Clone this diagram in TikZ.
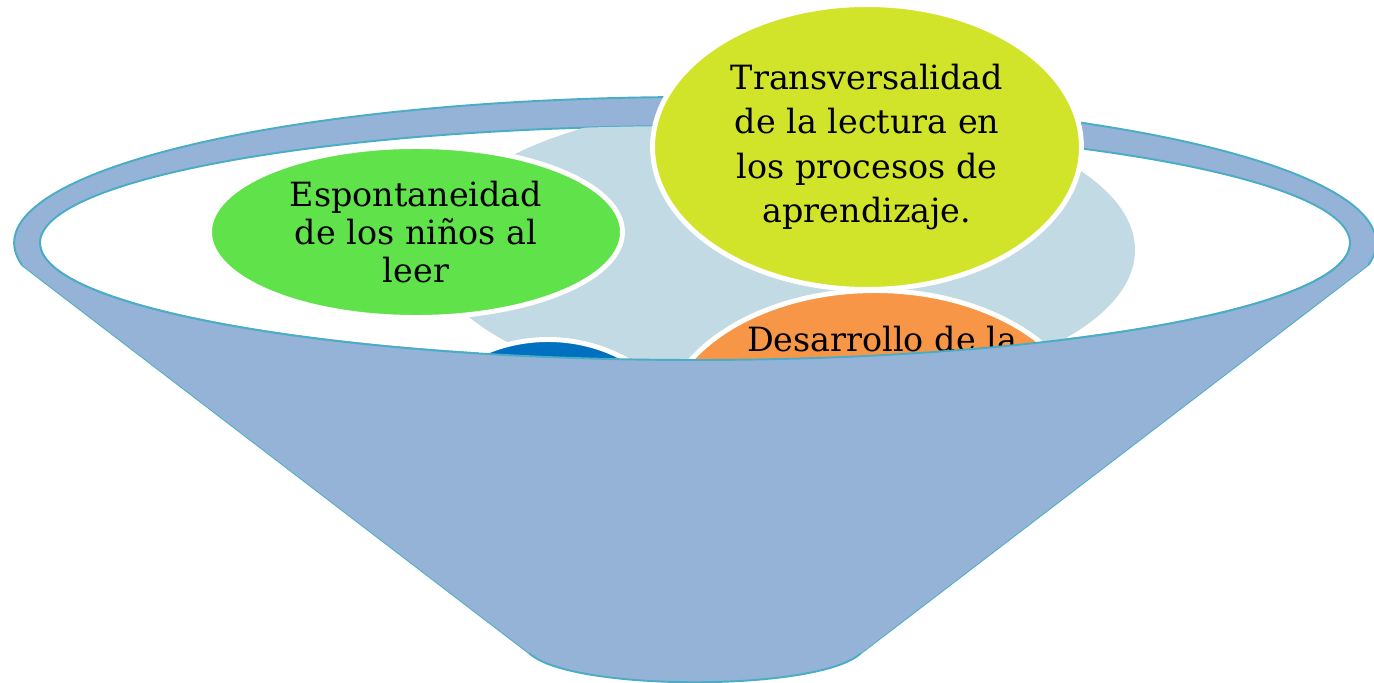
\documentclass[tikz,border=0pt]{standalone}
\usepackage{fontspec}
\setmainfont{DejaVu Serif}
\usepackage{tikz}
\usetikzlibrary{shapes.geometric, positioning}
\usepackage{xcolor}

\definecolor{rimblue}{RGB}{149,179,215}
\definecolor{edgeteal}{RGB}{75,172,198}
\definecolor{paleblue}{RGB}{193,218,227}
\definecolor{leafgreen}{RGB}{95,226,74}
\definecolor{limeyellow}{RGB}{209,228,41}
\definecolor{softorange}{RGB}{247,150,70}
\definecolor{deepblue}{RGB}{0,112,192}

\tikzset{
    bubble/.style={ellipse, draw=white, line width=2.8pt, inner sep=0pt, align=center},
    rim/.style={fill=rimblue, draw=edgeteal, line width=1.1pt},
}

\begin{document}
\begin{tikzpicture}[x=0.02cm, y=0.02cm]
    \useasboundingbox (0,0) rectangle (1374,683);

    % bowl outline: rim on top, funnel below
    \filldraw[rim] (1368,418) -- (861,30) .. controls (821,-9) and (569,-9) .. (529,30) -- (22,418)
        arc[start angle=188.67, end angle=-8.67, x radius=681, y radius=146];
    \filldraw[fill=white, draw=edgeteal, line width=1.1pt] (695,440) ellipse [x radius=655, y radius=117];

    \begin{scope}
        \clip (695,440) ellipse [x radius=655, y radius=117];
        \fill[paleblue] (783,433) ellipse [x radius=352, y radius=148];
        \node[bubble, fill=deepblue, minimum width=6.1cm, minimum height=5.7cm] (lectores) at (548,201) {};
        \node[bubble, fill=softorange, minimum width=8.58cm, minimum height=5.7cm] (desarrollo) at (875,250) {};
        \node[anchor=base, font=\fontsize{19}{22}\selectfont] (desarrollotxt) at (882,331) {Desarrollo de la};
    \end{scope}

    \node[bubble, fill=leafgreen, minimum width=8.26cm, minimum height=3.42cm,
          font=\fontsize{19}{21.5}\selectfont] (espontaneidad) at (416,451)
          {Espontaneidad\\de los niños al\\leer};
    \node[bubble, fill=limeyellow, minimum width=8.58cm, minimum height=5.7cm,
          font=\fontsize{19}{25.3}\selectfont] (transversalidad) at (867,536)
          {Transversalidad\\de la lectura en\\los procesos de\\aprendizaje.};

    % front of the funnel
    \fill[rimblue] (1350,440) arc[start angle=0, end angle=-180, x radius=655, y radius=117]
        -- (22,418) -- (529,30) -- (861,30) -- (1368,418) -- cycle;
    \draw[edgeteal, line width=1.1pt] (1350,440) arc[start angle=0, end angle=-180, x radius=655, y radius=117];
\end{tikzpicture}
\end{document}
